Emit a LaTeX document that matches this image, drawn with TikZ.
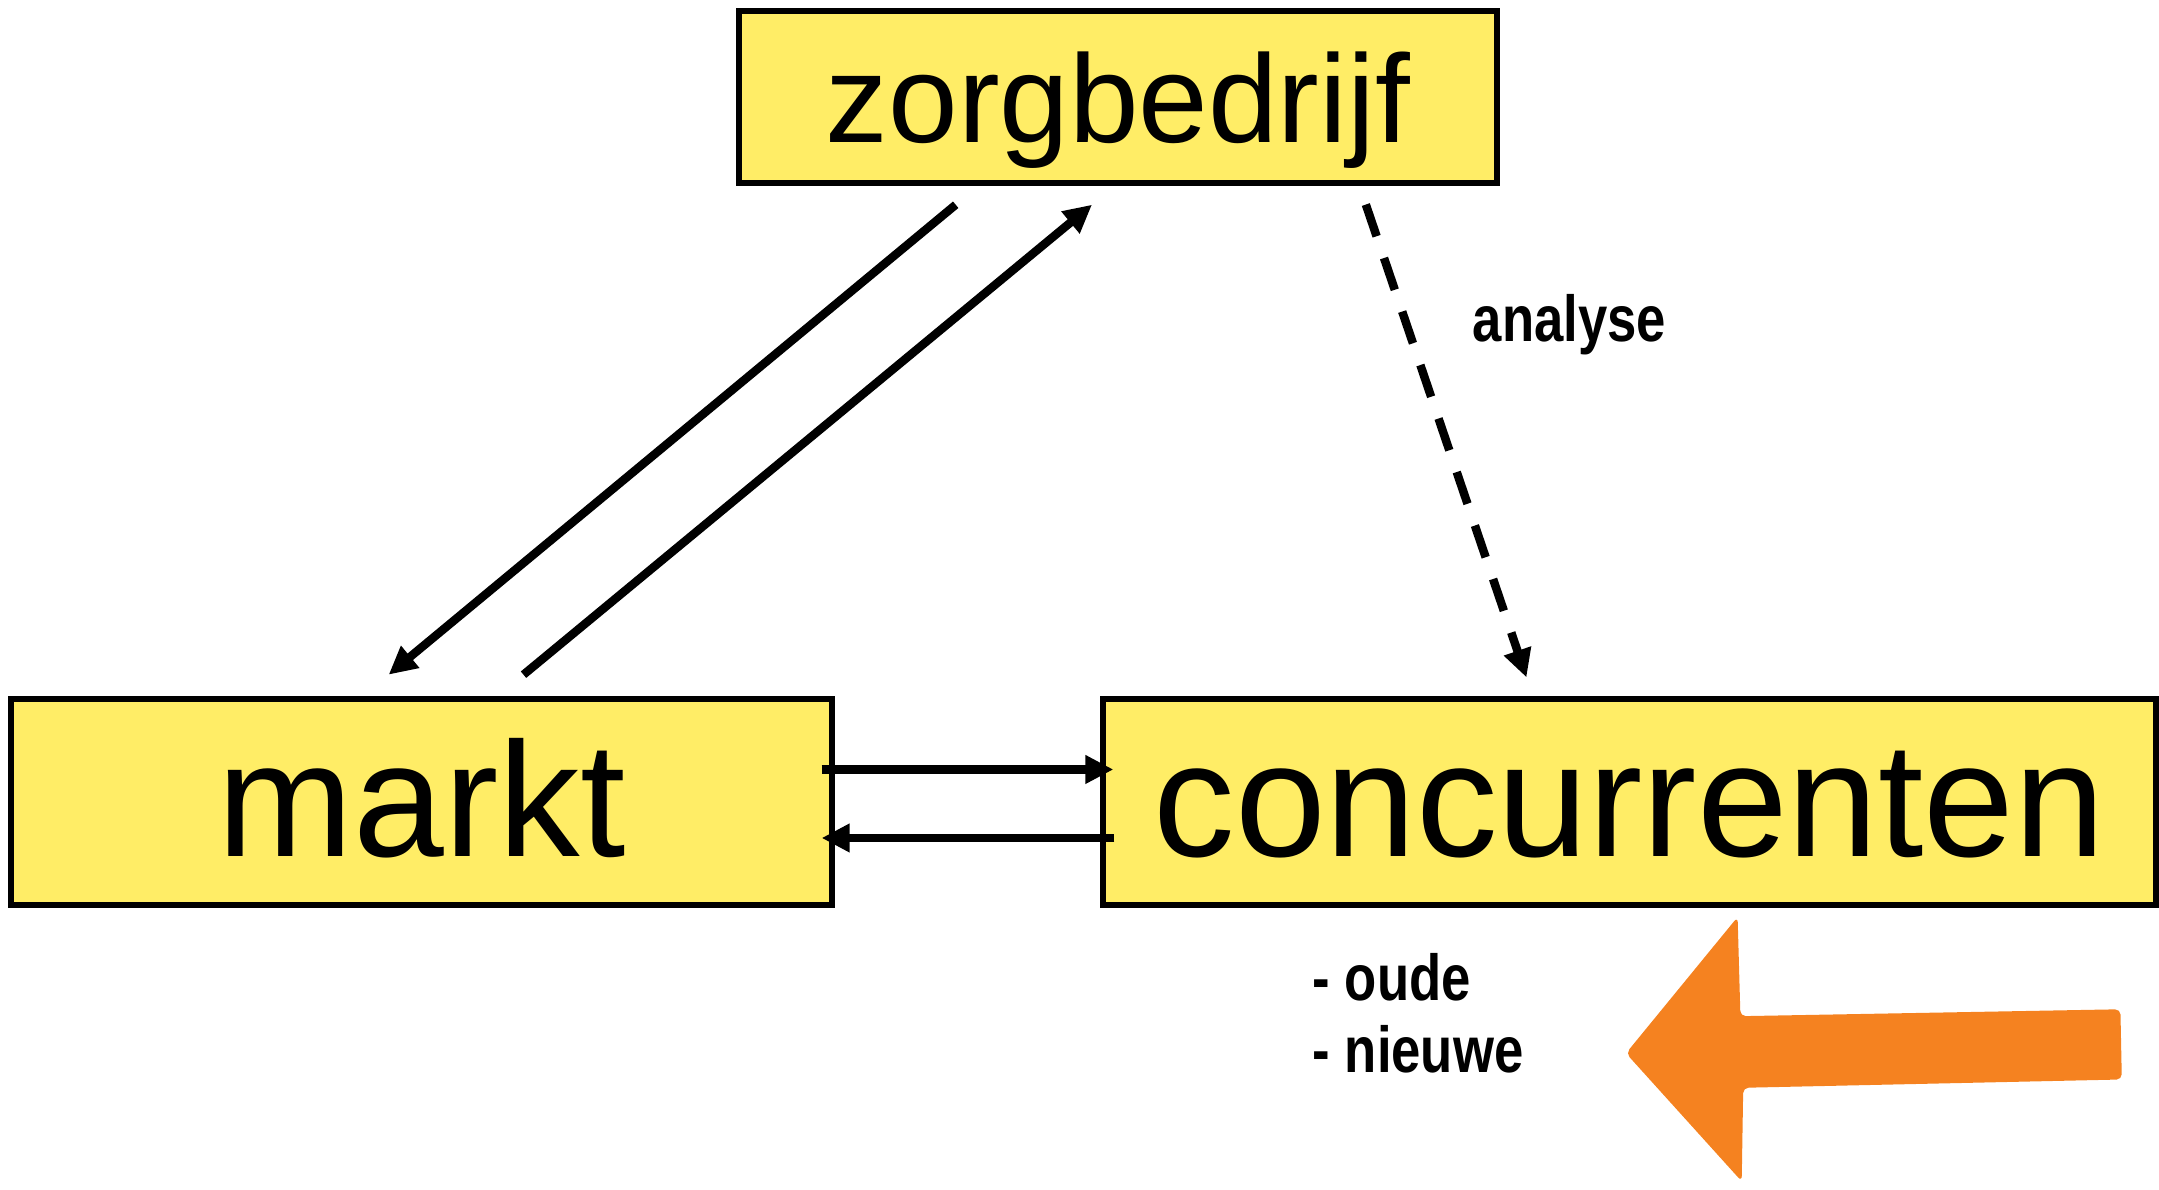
\documentclass[tikz,border=0pt]{standalone}
\usepackage{fontspec}
\setmainfont{Liberation Sans}
\newfontfamily\lblfont[FakeStretch=0.81]{Liberation Sans}
\usetikzlibrary{arrows.meta, calc}
\definecolor{boxyellow}{HTML}{FFED66}
\definecolor{arroworange}{HTML}{F58220}

\begin{document}
\begin{tikzpicture}[>={Triangle[length=2.8mm, width=2.7mm]},
  blok/.style={draw=black, fill=boxyellow, line width=1.5pt, inner sep=0pt},
  flow/.style={line width=2.4pt, ->},
  lbl/.style={font=\lblfont\bfseries\fontsize{18.5}{21}\selectfont, inner sep=0pt}]

\useasboundingbox (0,0) rectangle (21.59,11.90);

% Boxes
\node[blok, minimum width=7.58cm, minimum height=1.72cm, text depth=0pt,
  font=\fontsize{35.6}{40}\selectfont] (zorg) at (11.18,10.93) {zorgbedrijf};
\node[blok, minimum width=8.21cm, minimum height=2.06cm, text height=1.1cm,
  font=\fontsize{46.4}{52}\selectfont] (markt) at (4.215,3.88) {markt};
\node[blok, minimum width=10.53cm, minimum height=2.06cm, text height=1.1cm,
  font=\fontsize{46.4}{52}\selectfont] (conc) at (16.295,3.88) {concurrenten};

% zorgbedrijf <-> markt
\draw[flow, shorten <=0.30cm, shorten >=0.34cm]
  ([xshift=-1.392cm]zorg.south) -- ([xshift=-0.59cm]markt.north);
\draw[flow, shorten <=0.34cm, shorten >=0.30cm]
  ([xshift=0.758cm]markt.north) -- ([xshift=-0.029cm]zorg.south);

% analyse (dashed)
\draw[flow, dash pattern=on 0.335cm off 0.23cm, shorten <=0.2cm, shorten >=0.2cm]
  ([xshift=2.414cm]zorg.south) -- ([xshift=-0.966cm]conc.north);

% markt <-> concurrenten
\draw[flow, shorten <=-0.13cm, shorten >=-0.13cm]
  ([yshift=0.325cm]markt.east) -- ([yshift=0.325cm]conc.west);
\draw[flow, shorten <=-0.14cm, shorten >=-0.13cm]
  ([yshift=-0.36cm]conc.west) -- ([yshift=-0.36cm]markt.east);

% Labels
\node[lbl, anchor=base west] (analyse) at (14.72,8.485) {analyse};
\node[lbl, anchor=base west] (oude) at (13.12,1.89) {- oude};
\node[lbl, anchor=base west] (nieuwe) at (13.12,1.174) {- nieuwe};

% Big orange arrow
\fill[arroworange, rounded corners=1.5pt] (16.26,1.367) -- (17.376,2.73)
  -- (17.404,1.738) -- (21.204,1.807) -- (21.218,1.105) -- (17.432,1.022)
  -- (17.417,0.086) -- cycle;

\end{tikzpicture}
\end{document}
